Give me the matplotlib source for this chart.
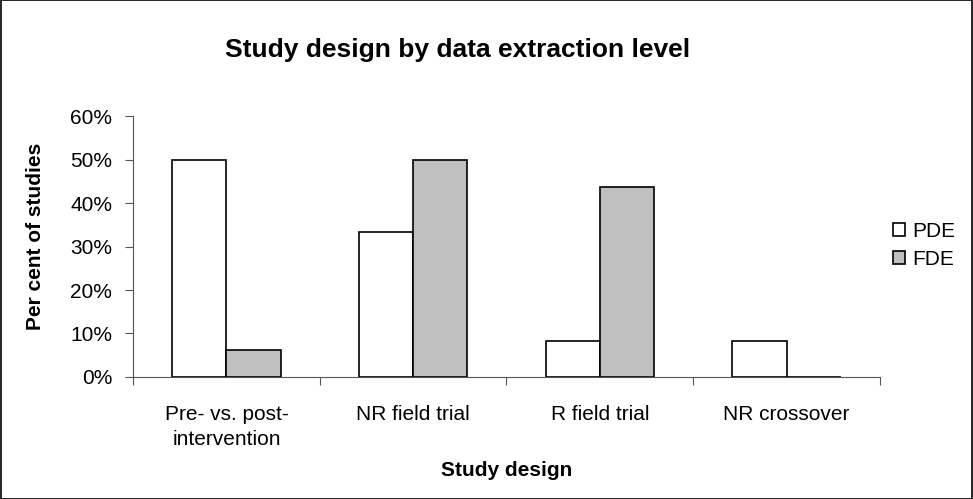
import numpy as np
import matplotlib.pyplot as plt
from matplotlib.patches import Rectangle
from matplotlib.ticker import PercentFormatter

plt.rcParams['font.family'] = ['Liberation Sans', 'DejaVu Sans']

categories = ['Pre- vs. post-\nintervention', 'NR field trial', 'R field trial', 'NR crossover']
pde = [50.0, 33.3, 8.33, 8.33]
fde = [6.25, 50.0, 43.75, 0.0]
yticks = [0, 10, 20, 30, 40, 50, 60]

fig = plt.figure(figsize=(9.73, 4.99), dpi=100)
ax = fig.add_axes([0.1367, 0.2445, 0.9044 - 0.1367, 0.7675 - 0.2445])

x = np.arange(len(categories))
w = 0.29
ax.bar(x - w / 2, pde, w, color='white', edgecolor='black', linewidth=1.2, label='PDE')
ax.bar(x + w / 2, fde, w, color='#c0c0c0', edgecolor='black', linewidth=1.2, label='FDE')

ax.set_xlim(-0.5, len(categories) - 0.5)
ax.set_ylim(0, 60)
ax.set_yticks(yticks)
ax.yaxis.set_major_formatter(PercentFormatter(decimals=0))
ax.set_xticks(np.arange(len(categories) + 1) - 0.5, minor=False)
ax.set_xticklabels([])
ax.set_xticks(x, minor=True)
ax.set_xticklabels(categories, minor=True, fontsize=15, linespacing=1.4)
ax.tick_params(axis='x', which='minor', length=0, pad=20)
ax.tick_params(axis='x', which='major', length=6, direction='out', color='#555555')
ax.tick_params(axis='y', length=6, direction='out', labelsize=15, pad=9, color='#555555')

for s in ['top', 'right']:
    ax.spines[s].set_visible(False)
ax.spines['left'].set_color('#555555')
ax.spines['bottom'].set_color('#555555')

ax.set_xlabel('Study design', fontsize=15, fontweight='bold', labelpad=9)
ax.set_ylabel('Per cent of studies', fontsize=15, fontweight='bold')
ax.yaxis.set_label_coords(-0.118, 0.54)
fig.text(0.47, 0.9, 'Study design by data extraction level', ha='center', va='center',
         fontsize=19, fontweight='bold')

ax.legend(loc='center left', bbox_to_anchor=(0.995, 0.505), frameon=False, fontsize=15,
          handlelength=0.6, handleheight=0.6, handletextpad=0.35, labelspacing=0.45,
          borderpad=0.3)

fig.patches.append(Rectangle((0.001, 0.001), 0.998, 0.998, transform=fig.transFigure,
                             fill=False, edgecolor='black', linewidth=1.2))

fig.savefig('out.png', dpi=100)
